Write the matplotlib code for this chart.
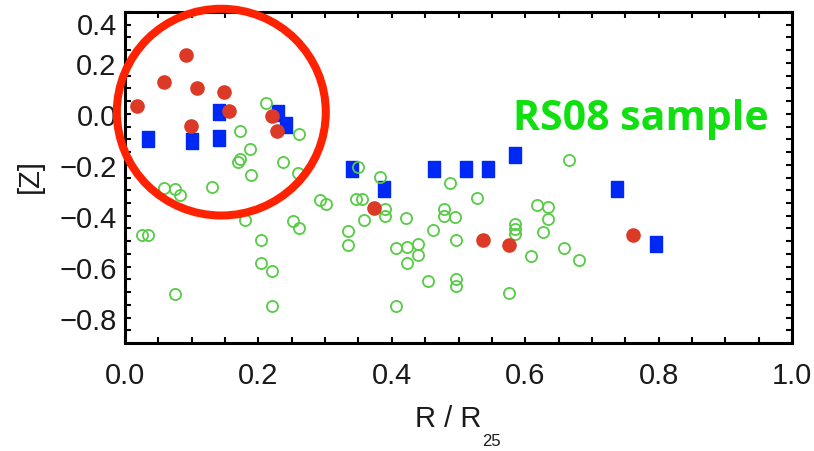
import numpy as np
import matplotlib
matplotlib.use("Agg")
import matplotlib.pyplot as plt
from matplotlib.patches import Ellipse
from matplotlib.ticker import MultipleLocator

# RS08 comparison sample (open green circles)
rs08_r = [0.211, 0.172, 0.261, 0.188, 0.169, 0.173, 0.237, 0.189, 0.260, 0.059,
          0.075, 0.083, 0.131, 0.292, 0.302, 0.180, 0.252, 0.261, 0.026, 0.034,
          0.204, 0.204, 0.221, 0.075, 0.220, 0.349, 0.382, 0.487, 0.527, 0.347,
          0.355, 0.390, 0.390, 0.358, 0.422, 0.478, 0.478, 0.495, 0.4625, 0.496,
          0.334, 0.334, 0.406, 0.423, 0.440, 0.440, 0.423, 0.455, 0.496, 0.496,
          0.406, 0.576, 0.666, 0.617, 0.634, 0.634, 0.626, 0.585, 0.585, 0.585,
          0.608, 0.658, 0.681]
rs08_z = [0.043, -0.068, -0.078, -0.137, -0.190, -0.178, -0.189, -0.239, -0.231, -0.292,
          -0.297, -0.320, -0.287, -0.339, -0.355, -0.416, -0.422, -0.449, -0.475, -0.475,
          -0.497, -0.584, -0.616, -0.706, -0.754, -0.208, -0.247, -0.271, -0.329, -0.335,
          -0.335, -0.373, -0.400, -0.416, -0.408, -0.373, -0.400, -0.405, -0.455, -0.497,
          -0.460, -0.516, -0.527, -0.524, -0.510, -0.556, -0.586, -0.657, -0.647, -0.675,
          -0.755, -0.702, -0.180, -0.357, -0.366, -0.412, -0.464, -0.431, -0.451, -0.471,
          -0.559, -0.525, -0.573]

# blue squares
sq_r = [0.034, 0.1005, 0.1405, 0.1405, 0.229, 0.241, 0.341, 0.389, 0.463, 0.511,
        0.544, 0.585, 0.738, 0.796]
sq_z = [-0.098, -0.105, -0.095, 0.007, 0.004, -0.042, -0.218, -0.297, -0.218, -0.218,
        -0.218, -0.163, -0.297, -0.512]

# red filled circles
dot_r = [0.0175, 0.059, 0.091, 0.1075, 0.149, 0.156, 0.0985, 0.220, 0.228,
         0.374, 0.536, 0.576, 0.762]
dot_z = [0.030, 0.124, 0.231, 0.101, 0.085, 0.013, -0.048, -0.009, -0.069,
         -0.369, -0.497, -0.516, -0.475]

xticks = [0.0, 0.2, 0.4, 0.6, 0.8, 1.0]
yticks = [-0.8, -0.6, -0.4, -0.2, 0.0, 0.2, 0.4]

W, H = 814, 452
sans = ["Liberation Sans", "DejaVu Sans"]
ink = "#1a1a1a"

fig = plt.figure(figsize=(W / 100, H / 100), dpi=100)
ax = fig.add_axes([125 / W, 1 - 344 / H, 667 / W, 331 / H])

rect = [(-0.4, -0.5), (0.4, -0.5), (0.4, 0.5), (-0.4, 0.5), (-0.4, -0.5)]
ax.plot(sq_r, sq_z, ls="none", marker=rect, ms=11.5, color="#0028f5",
        mec="#0028f5", zorder=2)
ax.plot(rs08_r, rs08_z, ls="none", marker="o", ms=8, mfc="none", mew=1.3,
        mec="#55cc44", zorder=3)
ax.plot(dot_r, dot_z, ls="none", marker="o", ms=9.5, color="#dc3a26",
        mec="#dc3a26", zorder=4)

# highlight ring round the inner-disc points
ring = Ellipse((0.1444, 0.0067), 0.3133, 0.812, fill=False, ec="#ff2200",
               lw=5.8, clip_on=False, zorder=10)
ax.add_patch(ring)

ax.set_xticks(xticks)
ax.set_yticks(yticks)
ax.set_xticklabels([f"{v:.1f}" for v in xticks], fontsize=21, family=sans, color=ink)
ax.set_yticklabels([f"{v:.1f}".replace("-", "\u2212") for v in yticks],
                   fontsize=21, family=sans, color=ink)
ax.xaxis.set_minor_locator(MultipleLocator(0.05))
ax.yaxis.set_minor_locator(MultipleLocator(0.05))
ax.set_xlim(0.0, 1.0)
ax.set_ylim(-0.9, 0.4)
ax.tick_params(which="both", direction="in", top=True, right=True,
               length=4, width=1.5, color="black")
ax.tick_params(axis="x", pad=13)
ax.tick_params(axis="y", pad=6)
for s in ax.spines.values():
    s.set_linewidth(2.2)

# top label sits just under the frame edge
ax.get_yticklabels()[-1].set_verticalalignment("top")

fig.text(30 / W, 1 - 176.5 / H, "[Z]", rotation=90, ha="center", va="center",
         fontsize=21, family=sans, color=ink)
fig.text(415 / W, 25 / H, "R / R", ha="left", va="baseline", fontsize=21,
         family=sans, color=ink)
fig.text(482 / W, 6 / H, "25", ha="left", va="baseline", fontsize=12,
         family=sans, color=ink)

fig.text(513 / W, 1 - 130 / H, "RS08 sample", ha="left", va="baseline",
         fontsize=29.5, fontweight="bold", color="#10e010",
         family=["Open Sans", "DejaVu Sans"])

fig.savefig("out.png", dpi=100)
